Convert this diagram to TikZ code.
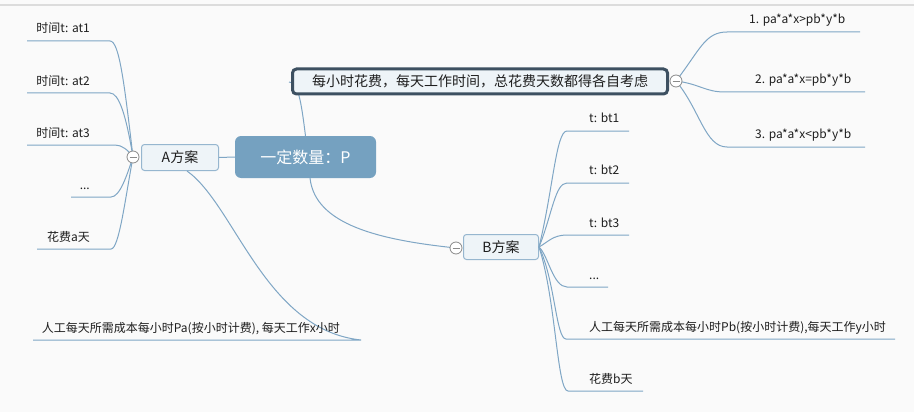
\documentclass[tikz,border=0pt]{standalone}
\usepackage{fontspec}
\setmainfont{Noto Sans CJK SC}
\usetikzlibrary{calc}
\definecolor{bg}{HTML}{FAFAFA}
\definecolor{topline}{HTML}{DCDCDC}
\definecolor{branchc}{HTML}{7FA6C5}
\definecolor{centralc}{HTML}{75A1C0}
\definecolor{subfill}{HTML}{EEF4F8}
\definecolor{subedge}{HTML}{96B6CF}
\definecolor{darkedge}{HTML}{3D5061}
\definecolor{txt}{HTML}{1E1E1E}
\definecolor{knob}{HTML}{8A8A8A}
\begin{document}
\begin{tikzpicture}[x=1pt,y=-1pt,
  branch/.style={draw=branchc, line width=1pt},
  centralbox/.style={rectangle, rounded corners=6pt, fill=centralc, text=white,
    font=\fontsize{16}{18}\selectfont, inner sep=0pt},
  subbox/.style={rectangle, rounded corners=3pt, fill=subfill, draw=subedge,
    line width=1pt, text=txt, font=\fontsize{14}{16}\selectfont, inner sep=0pt},
  topbox/.style={rectangle, rounded corners=4pt, fill=subfill, draw=darkedge,
    line width=3pt, text=txt, font=\fontsize{14}{16}\selectfont, inner sep=0pt},
  leaf/.style={text=txt, font=\fontsize{12}{14}\selectfont, inner sep=0pt},
  knobc/.style={circle, draw=knob, fill=white, line width=0.8pt, minimum size=12pt,
    inner sep=0pt,
    path picture={\draw[knob, line width=0.8pt]
      ([xshift=-3.5pt]path picture bounding box.center) --
      ([xshift=3.5pt]path picture bounding box.center);}}
]
\useasboundingbox (0,0) rectangle (914,412);
\fill[bg] (0,0) rectangle (914,412);
\draw[topline, line width=1.5pt] (0,5) -- (914,5);

% main nodes
\node[centralbox, minimum width=141pt, minimum height=42pt] (C) at (305.5,157) {一定数量：P};
\node[subbox, minimum width=77pt, minimum height=26pt] (A) at (180,157.5) {A方案};
\node[subbox, minimum width=75pt, minimum height=25pt] (B) at (501,247) {B方案};

% underline end points
\coordinate (a1r) at (110,41);  \coordinate (a1l) at (27,41);
\coordinate (a2r) at (110,93);  \coordinate (a2l) at (27,93);
\coordinate (a3r) at (115,145); \coordinate (a3l) at (27,145);
\coordinate (a4r) at (111,197); \coordinate (a4l) at (71,197);
\coordinate (a5r) at (111,249); \coordinate (a5l) at (37,249);
\coordinate (a6r) at (361,340); \coordinate (a6l) at (33,340);
\coordinate (b1l) at (567,131); \coordinate (b1r) at (629,131);
\coordinate (b2l) at (567,183); \coordinate (b2r) at (629,183);
\coordinate (b3l) at (567,235); \coordinate (b3r) at (629,235);
\coordinate (b4l) at (567,287); \coordinate (b4r) at (608,287);
\coordinate (b5l) at (566,339); \coordinate (b5r) at (895,339);
\coordinate (b6l) at (568,391); \coordinate (b6r) at (643,391);
\coordinate (r1l) at (727,32);  \coordinate (r1r) at (860,32);
\coordinate (r2l) at (725,92);  \coordinate (r2r) at (865,92);
\coordinate (r3l) at (727,147); \coordinate (r3r) at (865,147);

% connectors from the central topic
\draw[branch] (C.west) -- (A.east);
\coordinate (Tstub) at (289,82);
\draw[branch] (C.north) .. controls (301,100) and (298,82) .. (Tstub);
\coordinate (Cbot) at (310,178);
\coordinate (KBc) at (456,248);
\draw[branch] (Cbot) .. controls (315,225) and (380,240) .. (KBc);

% top topic (drawn over its stub)
\node[topbox, minimum width=375pt, minimum height=25pt] (T) at (480,81.5)
  {每小时花费，每天工作时间，总花费天数都得各自考虑};

% A branches
\coordinate (KAc) at (133,157);
\draw[branch] (KAc) .. controls (124,80) and (119,41) .. (a1r) -- (a1l);
\draw[branch] (KAc) .. controls (126,115) and (119,93) .. (a2r) -- (a2l);
\draw[branch] (KAc) .. controls (128,150) and (122,145) .. (a3r) -- (a3l);
\draw[branch] (KAc) .. controls (127,175) and (120,197) .. (a4r) -- (a4l);
\draw[branch] (KAc) .. controls (125,200) and (119,249) .. (a5r) -- (a5l);
\draw[branch] ($(A.south)+(7,0)$) .. controls (235,205) and (265,330) .. (a6r) -- (a6l);

\node[leaf, anchor=base east] (a1) at (90,33) {时间t: at1};
\node[leaf, anchor=base east] (a2) at (90,85) {时间t: at2};
\node[leaf, anchor=base east] (a3) at (90,137) {时间t: at3};
\node[leaf, anchor=base east] (a4) at (90,189) {...};
\node[leaf, anchor=base east] (a5) at (90,241) {花费a天};
\node[leaf, anchor=base east] (a6) at (340,332) {人工每天所需成本每小时Pa(按小时计费), 每天工作x小时};

% B branches
\draw[branch] (B.east) .. controls (553,190) and (556,131) .. (b1l) -- (b1r);
\draw[branch] (B.east) .. controls (552,215) and (555,183) .. (b2l) -- (b2r);
\draw[branch] (B.east) .. controls (548,242) and (553,235) .. (b3l) -- (b3r);
\draw[branch] (B.east) .. controls (548,255) and (553,287) .. (b4l) -- (b4r);
\draw[branch] (B.east) .. controls (555,280) and (556,339) .. (b5l) -- (b5r);
\draw[branch] (B.east) .. controls (556,300) and (557,391) .. (b6l) -- (b6r);

\node[leaf, anchor=base west] (b1) at (589,123) {t: bt1};
\node[leaf, anchor=base west] (b2) at (589,175) {t: bt2};
\node[leaf, anchor=base west] (b3) at (589,227) {t: bt3};
\node[leaf, anchor=base west] (b4) at (589,279) {...};
\node[leaf, anchor=base west] (b5) at (589,331) {人工每天所需成本每小时Pb(按小时计费),每天工作y小时};
\node[leaf, anchor=base west] (b6) at (589,383) {花费b天};

% top topic branches
\coordinate (KTc) at (676,81);
\draw[branch] (KTc) .. controls (700,50) and (705,32) .. (r1l) -- (r1r);
\draw[branch] (KTc) .. controls (700,84) and (705,92) .. (r2l) -- (r2r);
\draw[branch] (KTc) .. controls (700,110) and (705,147) .. (r3l) -- (r3r);

\node[leaf, anchor=base west] (r1) at (749,24) {1. pa*a*x>pb*y*b};
\node[leaf, anchor=base west] (r2) at (755,84) {2. pa*a*x=pb*y*b};
\node[leaf, anchor=base west] (r3) at (755,139) {3. pa*a*x<pb*y*b};

% collapse knobs
\node[knobc] (KA) at (KAc) {};
\node[knobc] (KB) at (KBc) {};
\node[knobc] (KT) at (KTc) {};
\end{tikzpicture}
\end{document}
